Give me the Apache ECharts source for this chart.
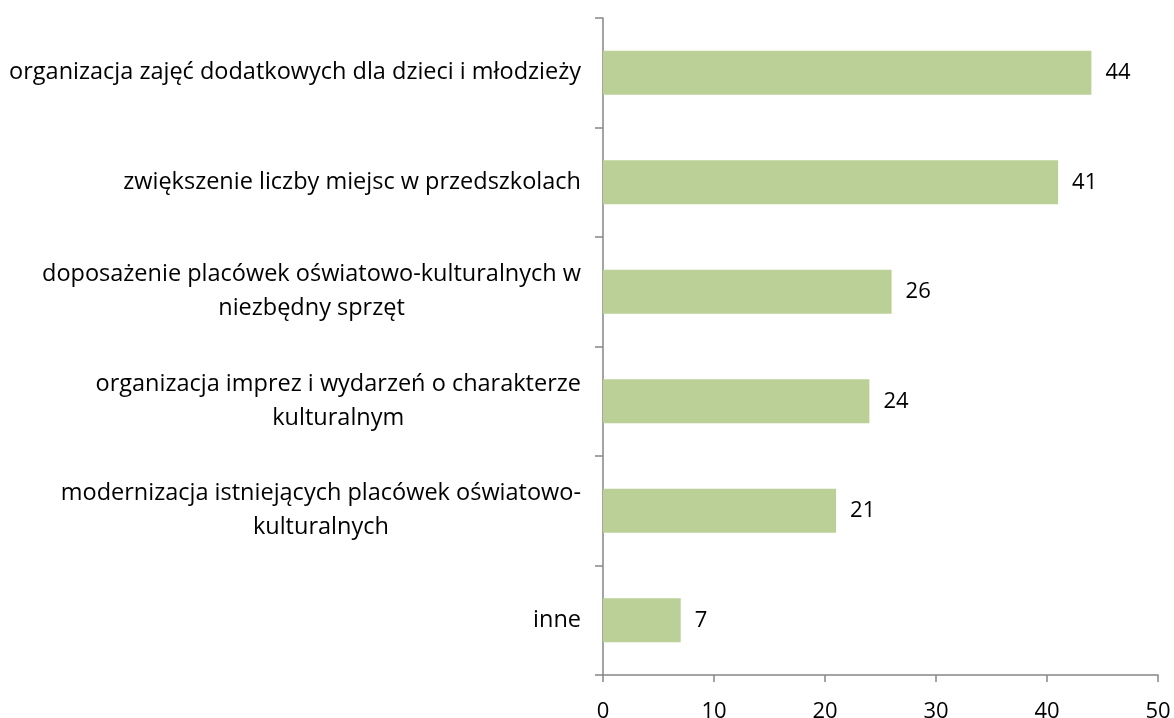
<!DOCTYPE html>
<html>
<head>
<meta charset="utf-8">
<script src="https://cdn.jsdelivr.net/npm/echarts@6/dist/echarts.min.js"></script>
<style>
  html, body { margin: 0; padding: 0; background: #fff; }
  #chart { width: 1174px; height: 718px; }
</style>
</head>
<body>
<div id="chart"></div>
<script>
// categories from bottom to top (ECharts draws category axis upward)
var categories = [
    'inne',
    'modernizacja istniejących placówek oświatowo-\nkulturalnych',
    'organizacja imprez i wydarzeń o charakterze\nkulturalnym',
    'doposażenie placówek oświatowo-kulturalnych w\nniezbędny sprzęt',
    'zwiększenie liczby miejsc w przedszkolach',
    'organizacja zajęć dodatkowych dla dzieci i młodzieży'
];
var values = [7, 21, 24, 26, 41, 44];

var mychart = echarts.init(document.getElementById('chart'));
var font = '"Open Sans", "Noto Sans", sans-serif';

option = {
    backgroundColor: '#fff',
    animation: false,
    grid: {
        left: 603,
        right: 16,
        top: 18,
        bottom: 43,
        outerBoundsMode: 'none'
    },
    xAxis: {
        type: 'value',
        min: 0,
        max: 50,
        interval: 10,
        axisLine: { show: true, lineStyle: { color: '#868686', width: 1.5 } },
        axisTick: { show: true, length: 7, lineStyle: { color: '#868686', width: 1.5 } },
        splitLine: { show: false },
        axisLabel: { color: '#000', fontSize: 22, fontFamily: font, margin: 26 }
    },
    yAxis: {
        type: 'category',
        data: categories,
        axisLine: { show: true, lineStyle: { color: '#868686', width: 1.5 } },
        axisTick: { show: true, length: 8, lineStyle: { color: '#868686', width: 1.5 } },
        axisLabel: {
            color: '#000',
            fontSize: 23.5,
            fontFamily: font,
            margin: 22,
            lineHeight: 34,
            align: 'right',
            // center each line inside the right-aligned label block
            formatter: function (v) {
                return v.split('\n').map(function (s) { return '{c|' + s + '}'; }).join('\n');
            },
            rich: {
                c: { align: 'center', fontSize: 23.5, fontFamily: font, color: '#000', lineHeight: 34 }
            }
        }
    },
    series: [
        {
            type: 'bar',
            data: values,
            barWidth: 44,
            itemStyle: { color: '#BBD097' },
            label: {
                show: true,
                position: 'right',
                distance: 14,
                color: '#000',
                fontSize: 22,
                fontFamily: font
            }
        }
    ]
};

mychart.setOption(option, true);
</script>
</body>
</html>
